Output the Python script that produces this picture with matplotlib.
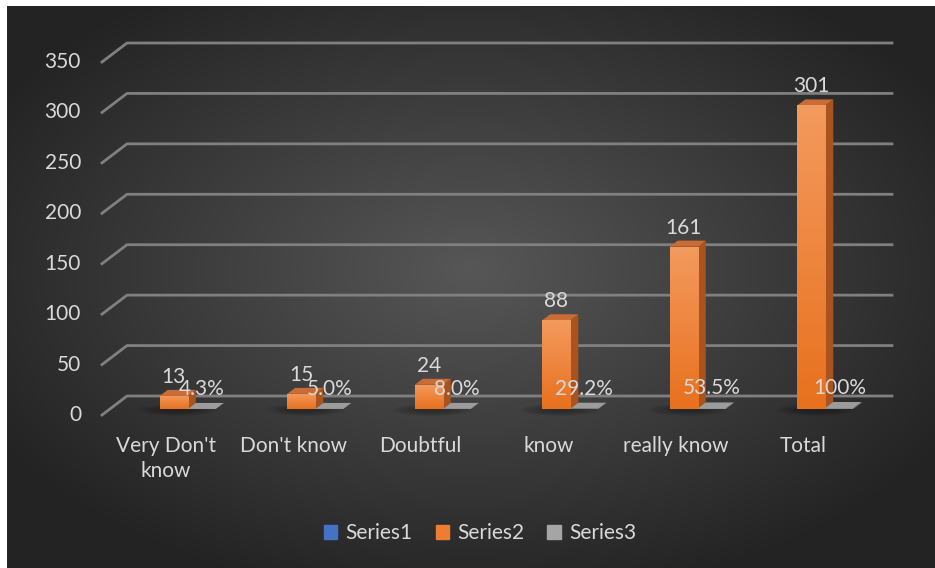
import numpy as np
import matplotlib.pyplot as plt
from matplotlib.patches import Polygon, Patch, Ellipse
from matplotlib.lines import Line2D
from matplotlib.transforms import IdentityTransform, ScaledTranslation
import matplotlib.colors as mcolors

plt.rcParams['font.family'] = ['Lato', 'DejaVu Sans']

# data
categories = ["Very Don't\nknow", "Don't know", "Doubtful", "know", "really know", "Total"]
series1 = [0, 0, 0, 0, 0, 0]          # empty series, only in legend
series2 = [13, 15, 24, 88, 161, 301]
series3 = [0.043, 0.050, 0.080, 0.292, 0.535, 1.00]
series3_labels = ["4.3%", "5.0%", "8.0%", "29.2%", "53.5%", "100%"]
yticks = [0, 50, 100, 150, 200, 250, 300, 350]

W, H = 935, 568
txt_col = '#d9d9d9'
fs = 15

fig = plt.figure(figsize=(W / 100, H / 100), dpi=100)
fig.patch.set_facecolor('white')

# radial dark background
bg = fig.add_axes([7 / W, 0, 1 - 7 / W, 1 - 6 / H])
yy, xx = np.mgrid[0:1:300j, 0:1:500j]
r = np.sqrt(((xx - 0.5) / 0.8) ** 2 + ((yy - 0.47) / 0.8) ** 2)
shade = np.clip(0.34 - 0.27 * r, 0.14, 0.35)
bg.imshow(np.dstack([shade] * 3), aspect='auto', extent=(0, 1, 0, 1))
bg.axis('off')

# front plane of the 3d plot
ax = fig.add_axes([102 / W, (H - 415) / H, 765 / W, 353 / H])
ax.set_xlim(-0.5, 5.5)
ax.set_ylim(0, 350)
ax.set_autoscale_on(False)
ax.axis('off')
ax.patch.set_alpha(0)

DX, DY = 25, 19      # floor depth in pixels
bx, by = 8, 6        # bar front offset / bar depth
bw = 0.22            # bar width in category units


def px(x, y, dx=0, dy=0):
    p = ax.transData.transform((x, y))
    return (p[0] + dx, p[1] + dy)


# gridlines: diagonal on side wall + back wall line
for v in yticks:
    a = px(-0.5, v)
    b = px(-0.5, v, DX, DY)
    c = px(5.5, v, DX, DY)
    ax.add_line(Line2D([a[0], b[0], c[0]], [a[1], b[1], c[1]], clip_on=False,
                       transform=IdentityTransform(), color='#808080', lw=2, zorder=1))
    ax.annotate(str(v), (-0.5, v), xytext=(-21, 0), textcoords='offset pixels',
                ha='right', va='center', color=txt_col, fontsize=fs)

off_front = ax.transData + ScaledTranslation(bx / 100, by / 100, fig.dpi_scale_trans)


def bar3d(xc, h, front, side, top, grad=None):
    x0, x1 = xc - bw / 2, xc + bw / 2
    rect = ax.bar(xc, h, bw, color=front, transform=off_front, zorder=4, clip_on=False)[0]
    if grad is not None:
        cm = mcolors.LinearSegmentedColormap.from_list('g', grad)
        im = ax.imshow(np.linspace(0, 1, 50).reshape(-1, 1), cmap=cm, aspect='auto',
                       extent=(x0, x1, 0, h), origin='lower', transform=off_front, zorder=4.1)
        im.set_clip_path(rect)
    s = [px(x1, 0, bx, by), px(x1, 0, 2 * bx, 2 * by), px(x1, h, 2 * bx, 2 * by), px(x1, h, bx, by)]
    t = [px(x0, h, bx, by), px(x1, h, bx, by), px(x1, h, 2 * bx, 2 * by), px(x0, h, 2 * bx, 2 * by)]
    ax.add_patch(Polygon(s, closed=True, facecolor=side, edgecolor='none', clip_on=False,
                         transform=IdentityTransform(), zorder=4))
    ax.add_patch(Polygon(t, closed=True, facecolor=top, edgecolor='none', clip_on=False,
                         transform=IdentityTransform(), zorder=4))


for i in range(len(categories)):
    # soft shadow on the floor
    cx, cy = px(i + bw / 2, 0, 6, 5)
    for k in range(6):
        ax.add_patch(Ellipse((cx - 8, cy), 80 - k * 9, 12 - k * 1.5, facecolor='black',
                             alpha=0.05, edgecolor='none', clip_on=False,
                             transform=IdentityTransform(), zorder=2))

    bar3d(i, series2[i], '#ED7D31', '#A9541E', '#C96C36', grad=['#E8711E', '#F39A5E'])
    bar3d(i + bw, series3[i], '#8c8c8c', '#7a7a7a', '#9c9c9c')

    ax.annotate(str(series2[i]), (i, series2[i]), xytext=(bx, 25), textcoords='offset pixels',
                ha='center', va='center', color=txt_col, fontsize=fs, zorder=6)
    ax.annotate(series3_labels[i], (i + bw, series3[i]), xytext=(bx, 26), textcoords='offset pixels',
                ha='center', va='center', color=txt_col, fontsize=fs, zorder=6)
    ax.annotate(categories[i], (i, 0), xytext=(0, -21), textcoords='offset pixels',
                ha='center', va='top', color=txt_col, fontsize=fs, linespacing=1.3)

ax.set_xlim(-0.5, 5.5)
ax.set_ylim(0, 350)

handles = [Patch(color='#4472C4', label='Series1'),
           Patch(color='#ED7D31', label='Series2'),
           Patch(color='#A5A5A5', label='Series3')]
fig.legend(handles=handles, loc='center', bbox_to_anchor=(480 / W, 1 - 533 / H), ncol=3,
           frameon=False, handlelength=0.65, handleheight=0.65, handletextpad=0.4,
           columnspacing=1.1, labelcolor=txt_col, fontsize=fs)

fig.savefig('out.png', dpi=100)
